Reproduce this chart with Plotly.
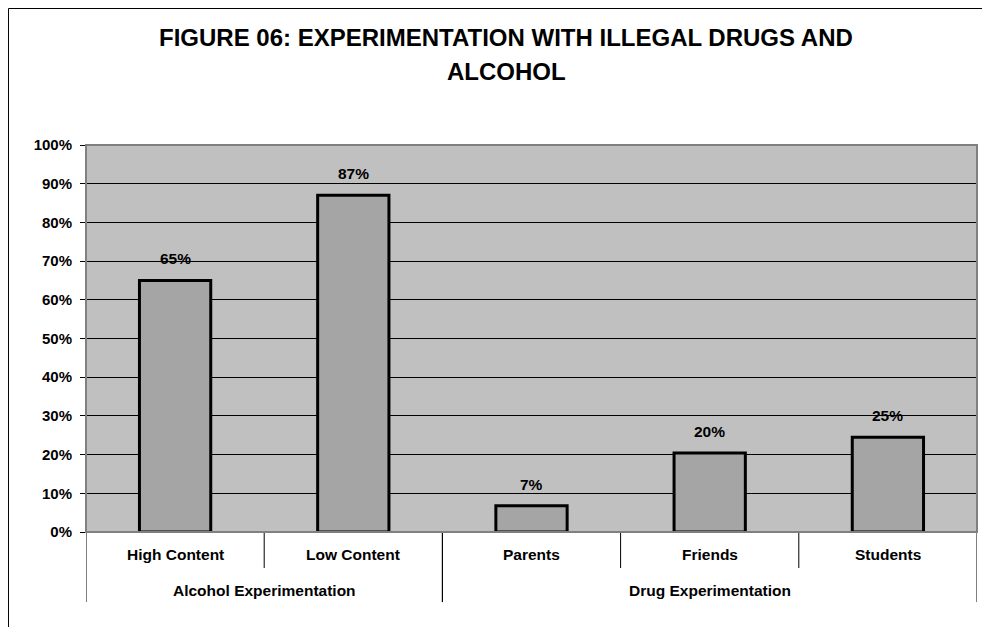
import plotly.graph_objects as go

# ---- data ----
groups = ["Alcohol Experimentation", "Alcohol Experimentation",
          "Drug Experimentation", "Drug Experimentation", "Drug Experimentation"]
categories = ["High Content", "Low Content", "Parents", "Friends", "Students"]
values = [0.65, 0.87, 0.068, 0.204, 0.245]
value_labels = ["65%", "87%", "7%", "20%", "25%"]
y_ticks = [0.0, 0.1, 0.2, 0.3, 0.4, 0.5, 0.6, 0.7, 0.8, 0.9, 1.0]
title_lines = ["FIGURE 06: EXPERIMENTATION WITH ILLEGAL DRUGS AND", "ALCOHOL"]

FONT = "Arial, 'Liberation Sans', sans-serif"
FS = 15.5

x_idx = list(range(len(categories)))

fig = go.Figure()
fig.add_trace(go.Bar(
    x=x_idx, y=values, width=0.4,
    marker=dict(color="#A5A5A5", line=dict(color="black", width=3)),
    hoverinfo="skip",
))

annotations = []
# value labels
for i, (v, t) in enumerate(zip(values, value_labels)):
    annotations.append(dict(x=i, y=v, xref="x", yref="y", text=t, showarrow=False,
                            yanchor="bottom", yshift=11,
                            font=dict(family=FONT, size=FS, color="black", weight="bold")))
# category labels (row 1)
for i, c in enumerate(categories):
    annotations.append(dict(x=i, y=-0.0594, xref="x", yref="paper", text=c, showarrow=False,
                            yanchor="middle",
                            font=dict(family=FONT, size=FS, color="black", weight="bold")))
# group labels (row 2) and dividers
shapes = []
unique_groups = []
for g in groups:
    if g not in unique_groups:
        unique_groups.append(g)
for g in unique_groups:
    idx = [i for i, gg in enumerate(groups) if gg == g]
    center = (idx[0] + idx[-1]) / 2
    annotations.append(dict(x=center, y=-0.150, xref="x", yref="paper", text=g, showarrow=False,
                            yanchor="middle",
                            font=dict(family=FONT, size=FS, color="black", weight="bold")))
    shapes.append(dict(type="line", xref="x", yref="paper", x0=idx[0] - 0.5, x1=idx[0] - 0.5,
                       y0=0, y1=-0.181, line=dict(color="black", width=1)))
    shapes.append(dict(type="line", xref="x", yref="paper", x0=idx[-1] + 0.5, x1=idx[-1] + 0.5,
                       y0=0, y1=-0.181, line=dict(color="black", width=1)))
    for i in idx[:-1]:
        shapes.append(dict(type="line", xref="x", yref="paper", x0=i + 0.5, x1=i + 0.5,
                           y0=0, y1=-0.093, line=dict(color="black", width=1)))

# plot area border
shapes.append(dict(type="rect", xref="paper", yref="paper", x0=0, x1=1, y0=0, y1=1,
                   line=dict(color="#808080", width=2), layer="above"))
# outer chart frame (top and left edges visible)
shapes.append(dict(type="line", xref="paper", yref="paper", x0=-0.087, x1=1.02,
                   y0=1.3527, y1=1.3527, line=dict(color="black", width=1)))
shapes.append(dict(type="line", xref="paper", yref="paper", x0=-0.087, x1=-0.087,
                   y0=1.3527, y1=-0.26, line=dict(color="black", width=1)))

# title
annotations.append(dict(x=0.4715, y=1.2778, xref="paper", yref="paper", text=title_lines[0],
                        showarrow=False, yanchor="middle", xanchor="center",
                        font=dict(family=FONT, size=24, color="black", weight="bold")))
annotations.append(dict(x=0.4715, y=1.1912, xref="paper", yref="paper", text=title_lines[1],
                        showarrow=False, yanchor="middle", xanchor="center",
                        font=dict(family=FONT, size=24, color="black", weight="bold")))

fig.update_layout(
    width=982, height=619,
    margin=dict(l=78, r=13, t=137, b=95),
    paper_bgcolor="white", plot_bgcolor="#C0C0C0",
    showlegend=False,
    bargap=0.6,
    xaxis=dict(range=[-0.5, len(categories) - 0.5], showticklabels=False, ticks="",
               showgrid=False, zeroline=False, showline=True, linecolor="black", linewidth=1,
               fixedrange=True),
    yaxis=dict(range=[0, 1], tickvals=y_ticks, tickformat=".0%",
               ticks="outside", ticklen=5, tickcolor="black", tickwidth=1,
               ticklabelstandoff=5,
               tickfont=dict(family=FONT, size=15, color="black", weight="bold"),
               showgrid=True, gridcolor="black", gridwidth=1,
               zeroline=False, showline=False, fixedrange=True),
    annotations=annotations,
    shapes=shapes,
)

fig.write_html("out.html")
